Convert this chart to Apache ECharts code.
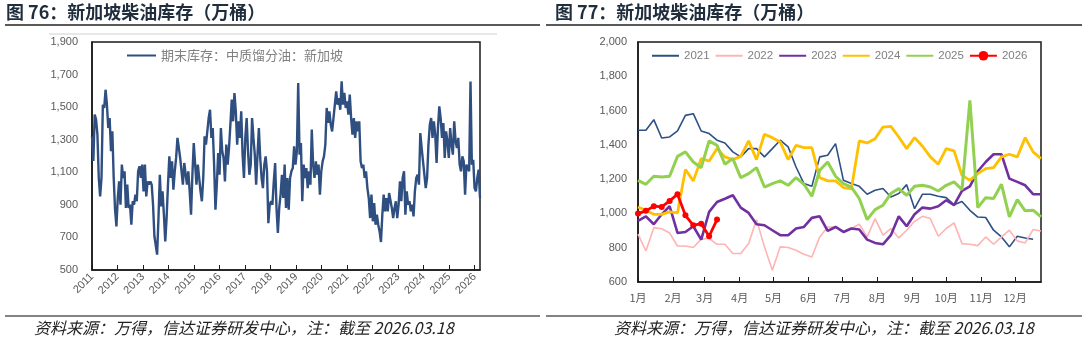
<!DOCTYPE html>
<html>
<head>
<meta charset="utf-8">
<script src="https://cdn.jsdelivr.net/npm/echarts@6/dist/echarts.min.js"></script>
<style>
  html, body { margin: 0; padding: 0; background: #fff; }
  #chart { width: 1088px; height: 342px; }
</style>
</head>
<body>
<div id="chart"></div>
<script>
// Fig 76: Singapore middle distillate stocks, weekly-ish readings 2011 -> 2026.03.18
const invStart = 2011
const invEnd = 2026.21
const invValues = [
  1320, 1170, 1454, 1423, 1331, 1065, 952, 1065, 1515, 1495,
  1607, 1515, 1372, 1433, 1229, 1351, 1065, 870, 768, 942,
  1044, 901, 1147, 1065, 1106, 881, 1024, 881, 901, 778,
  922, 901, 963, 922, 1106, 1137, 1065, 1147, 983, 1147,
  952, 1044, 1024, 1044, 1024, 901, 707, 696, 594, 819,
  1085, 891, 983, 840, 676, 819, 1024, 1198, 1065, 1167,
  993, 1106, 1188, 1311, 1311, 1188, 1106, 1024, 1157, 1147,
  1024, 1106, 983, 840, 1085, 1280, 1270, 1024, 1147, 1065,
  983, 922, 1065, 1321, 1270, 1351, 1433, 1484, 1311, 1372,
  1147, 870, 1024, 1218, 1085, 1372, 1229, 1188, 1044, 1270,
  1147, 1249, 1392, 1546, 1413, 1587, 1474, 1270, 1413, 1311,
  1474, 1208, 1065, 1311, 1433, 1229, 1085, 1147, 1433, 1311,
  1208, 1024, 1208, 1372, 1188, 1065, 1003, 1147, 1198, 1106,
  788, 901, 922, 901, 1044, 1157, 881, 727, 881, 963,
  1085, 942,
  1147, 881, 1065, 870, 1065, 1106, 1126, 1259, 1147, 1229,
  1648, 1208, 1280, 922, 1147, 1065, 1126, 1003, 1106, 1024,
  1362, 1147, 1065, 1167, 1085, 1147, 963, 1106, 1167, 1198,
  1270, 1495, 1403, 1474, 1392, 1351, 1433, 1515, 1597, 1515,
  1556, 1484, 1658, 1515, 1587, 1495, 1536, 1454, 1577, 1433,
  1331, 1433, 1311, 1413, 1351, 1413, 1167, 1126, 1147, 1065,
  1106, 1003, 942, 819, 963, 799, 911, 778, 840, 778,
  737, 672, 840, 963, 860, 942, 860, 973, 963, 881,
  819, 881, 922, 819, 901, 1044, 922, 1065, 1106, 840,
  983, 901, 922, 860, 901, 829, 983, 1065, 1085, 1024,
  1341, 1249, 1167, 1085, 1003, 1065, 1270, 1392, 1433, 1311,
  1413, 1331, 1157, 1372, 1505, 1433, 1311, 1403, 1188, 1351,
  1290, 1188, 1372, 1270, 1208, 1413, 1290, 1249, 1311, 1147,
  1106, 1198, 1167, 963, 1147, 1157, 1106, 1658, 1147, 1177,
  1003, 983, 1065, 1116, 942
]

// Fig 77: same stocks by week of year (week 0 = start of Jan)
const monthLabels = ["1月", "2月", "3月", "4月", "5月", "6月", "7月", "8月", "9月", "10月", "11月", "12月"]
const monthStartDays = [0, 31, 59, 90, 120, 151, 181, 212, 243, 273, 304, 334]
const seasonYears = ["2021", "2022", "2023", "2024", "2025", "2026"]
const y2021 = [1485, 1485, 1547, 1440, 1446, 1481, 1572, 1582, 1481, 1466, 1427, 1411, 1359, 1330, 1378, 1378, 1330, 1378, 1427, 1388, 1271, 1174, 1158, 1330, 1339, 1407, 1193, 1174, 1158, 1112, 1135, 1145, 1096, 1116, 1168, 1028, 1112, 1112, 1100, 1092, 1050, 1070, 1018, 979, 976, 902, 863, 805, 867, 857, 849]
const y2022 = [879, 781, 917, 911, 886, 810, 810, 801, 850, 855, 820, 820, 766, 766, 824, 964, 805, 668, 805, 801, 785, 762, 746, 863, 921, 921, 892, 912, 937, 863, 970, 873, 912, 857, 902, 954, 983, 970, 867, 912, 945, 824, 820, 812, 863, 820, 863, 902, 840, 828, 906, 898]
const y2023 = [956, 983, 937, 995, 1042, 886, 892, 925, 847, 1009, 1067, 1086, 1106, 1034, 1003, 937, 931, 902, 873, 873, 912, 921, 974, 983, 898, 921, 892, 912, 906, 847, 828, 820, 873, 983, 925, 995, 1034, 1028, 1042, 1077, 1048, 1131, 1158, 1246, 1300, 1345, 1345, 1203, 1184, 1164, 1112, 1112]
const y2024 = [1038, 1018, 995, 995, 1009, 1003, 1256, 1190, 1320, 1306, 1378, 1330, 1314, 1333, 1423, 1314, 1462, 1442, 1417, 1314, 1397, 1384, 1384, 1209, 1190, 1190, 1151, 1143, 1423, 1411, 1436, 1504, 1508, 1446, 1378, 1442, 1392, 1330, 1287, 1378, 1365, 1223, 1193, 1232, 1261, 1267, 1330, 1345, 1330, 1442, 1359, 1320]
const y2025 = [1193, 1170, 1217, 1213, 1217, 1333, 1359, 1300, 1267, 1423, 1397, 1287, 1320, 1209, 1232, 1267, 1154, 1174, 1190, 1164, 1209, 1170, 1100, 1252, 1300, 1217, 1174, 1154, 1087, 964, 1022, 1048, 1116, 1145, 1106, 1158, 1164, 1154, 1131, 1164, 1184, 1139, 1660, 1034, 1092, 1087, 1170, 980, 1081, 1015, 1019, 980]
const y2026 = [999, 1015, 1042, 1038, 1073, 1112, 989, 931, 940, 867, 964]

const seasonData = [y2021, y2022, y2023, y2024, y2025, y2026]
const seasonColors = ["#2f5085", "#ffb3b3", "#7030a0", "#ffc000", "#92d050", "#ff0000"]
const seasonWidths = [1.6, 1.6, 2.6, 2.8, 3, 2.8]

const numFont = "'Liberation Sans', 'Noto Sans CJK SC', sans-serif"
const cjkFont = "'Noto Sans CJK SC', 'Liberation Sans', sans-serif"
const axisGray = "#595959"
const fmtThousands = (v) => String(v).replace(/\B(?=(\d{3})+(?!\d))/g, ",")

const monthTicks = monthStartDays.map((d) => d / 7)

const invSeries = invValues.map((v, i) => [invStart + (i * (invEnd - invStart)) / (invValues.length - 1), v])

// legend entries that should show a bare line (no marker)
const noMarker = { color: "rgba(0,0,0,0)", borderColor: "rgba(0,0,0,0)", borderWidth: 0 }

const chart = echarts.init(document.getElementById("chart"), null, { renderer: "canvas" })

const footnote = "资料来源：万得，信达证券研发中心，注：截至 2026.03.18"
const titleStyle = { fontFamily: cjkFont, fontSize: 18, fontWeight: "bold", color: "#1f2d3d" }
const noteStyle = { fontFamily: cjkFont, fontSize: 16, fontStyle: "italic", fontWeight: "normal", color: "#222" }

chart.setOption({
  animation: false,
  backgroundColor: "#fff",
  title: [
    { text: "图 76：新加坡柴油库存（万桶）", left: 6, top: 3, padding: 0, textStyle: titleStyle },
    { text: "图 77：新加坡柴油库存（万桶）", left: 555, top: 3, padding: 0, textStyle: titleStyle },
    { text: footnote, left: 34, top: 320, padding: 0, textStyle: noteStyle },
    { text: footnote, left: 614, top: 320, padding: 0, textStyle: noteStyle },
  ],
  legend: [
    {
      data: [{ name: "期末库存：中质馏分油：新加坡", itemStyle: noMarker }],
      left: 126,
      top: 49,
      padding: 0,
      itemWidth: 29,
      itemHeight: 12,
      textStyle: { fontFamily: cjkFont, fontSize: 13, color: "#808080" },
    },
    {
      data: seasonYears.map((name) => (name === "2026" ? { name } : { name, itemStyle: noMarker })),
      left: 651,
      top: 50,
      padding: 0,
      itemWidth: 27,
      itemHeight: 12,
      itemGap: 5,
      textStyle: { fontFamily: numFont, fontSize: 11.5, color: "#7f7f7f" },
    },
  ],
  grid: [
    { left: 92, top: 42, width: 388, height: 228, show: true, borderColor: "#1a1a1a", borderWidth: 1.5 },
    { left: 638, top: 42, width: 403, height: 240, show: true, borderColor: "#1a1a1a", borderWidth: 1.5 },
  ],
  xAxis: [
    {
      type: "value",
      gridIndex: 0,
      min: invStart,
      max: invEnd,
      interval: 1,
      axisLine: { lineStyle: { color: "#1a1a1a", width: 1.5 } },
      axisTick: { inside: true, length: 5, lineStyle: { color: "#1a1a1a" } },
      splitLine: { show: false },
      axisLabel: {
        rotate: 45,
        margin: 5,
        fontFamily: numFont,
        fontSize: 11,
        color: axisGray,
        showMaxLabel: false,
        formatter: (v) => (Number.isInteger(v) ? String(v) : ""),
      },
    },
    {
      type: "value",
      gridIndex: 1,
      min: 0,
      max: 51,
      axisLine: { lineStyle: { color: "#1a1a1a", width: 1.5 } },
      axisTick: { inside: true, length: 5, customValues: monthTicks, lineStyle: { color: "#1a1a1a" } },
      splitLine: { show: false },
      axisLabel: {
        customValues: monthTicks,
        margin: 10,
        fontFamily: cjkFont,
        fontSize: 11,
        color: axisGray,
        formatter: (v) => {
          const i = monthTicks.findIndex((t) => Math.abs(t - v) < 1e-6)
          return i >= 0 ? monthLabels[i] : ""
        },
      },
    },
  ],
  yAxis: [
    {
      type: "value",
      gridIndex: 0,
      min: 500,
      max: 1900,
      interval: 100,
      axisLine: { show: true, lineStyle: { color: "#1a1a1a", width: 1.5 } },
      axisTick: { show: false },
      splitLine: { show: false },
      axisLabel: {
        margin: 14,
        fontFamily: numFont,
        fontSize: 11,
        color: axisGray,
        formatter: (v) => ((v - 500) % 200 === 0 ? fmtThousands(v) : ""),
      },
    },
    {
      type: "value",
      gridIndex: 1,
      min: 600,
      max: 2000,
      interval: 200,
      axisLine: { show: true, lineStyle: { color: "#1a1a1a", width: 1.5 } },
      axisTick: { show: false },
      splitLine: { show: false },
      axisLabel: {
        margin: 11,
        fontFamily: numFont,
        fontSize: 11,
        color: axisGray,
        formatter: (v) => fmtThousands(v),
      },
    },
  ],
  series: [
    {
      name: "期末库存：中质馏分油：新加坡",
      type: "line",
      xAxisIndex: 0,
      yAxisIndex: 0,
      data: invSeries,
      symbol: "none",
      lineStyle: { color: "#2f4f80", width: 2.4 },
      itemStyle: { color: "#2f4f80" },
    },
    ...seasonYears.map((name, s) => ({
      name,
      type: "line",
      xAxisIndex: 1,
      yAxisIndex: 1,
      data: seasonData[s].map((v, k) => [k, v]),
      symbol: name === "2026" ? "circle" : "none",
      symbolSize: 6,
      showSymbol: name === "2026",
      lineStyle: { color: seasonColors[s], width: seasonWidths[s] },
      itemStyle: { color: seasonColors[s] },
      z: 2 + s,
    })),
  ],
  graphic: [
    { type: "line", shape: { x1: 5, y1: 25, x2: 540, y2: 25 }, style: { stroke: "#5a5a5a", lineWidth: 2 } },
    { type: "line", shape: { x1: 546, y1: 25, x2: 1082, y2: 25 }, style: { stroke: "#5a5a5a", lineWidth: 2 } },
    { type: "line", shape: { x1: 49, y1: 34, x2: 497, y2: 34 }, style: { stroke: "#d0d0d0", lineWidth: 1 } },
    { type: "line", shape: { x1: 5, y1: 316, x2: 540, y2: 316 }, style: { stroke: "#5a5a5a", lineWidth: 1.5 } },
    { type: "line", shape: { x1: 546, y1: 316, x2: 1082, y2: 316 }, style: { stroke: "#5a5a5a", lineWidth: 1.5 } },
  ],
})
</script>
</body>
</html>
